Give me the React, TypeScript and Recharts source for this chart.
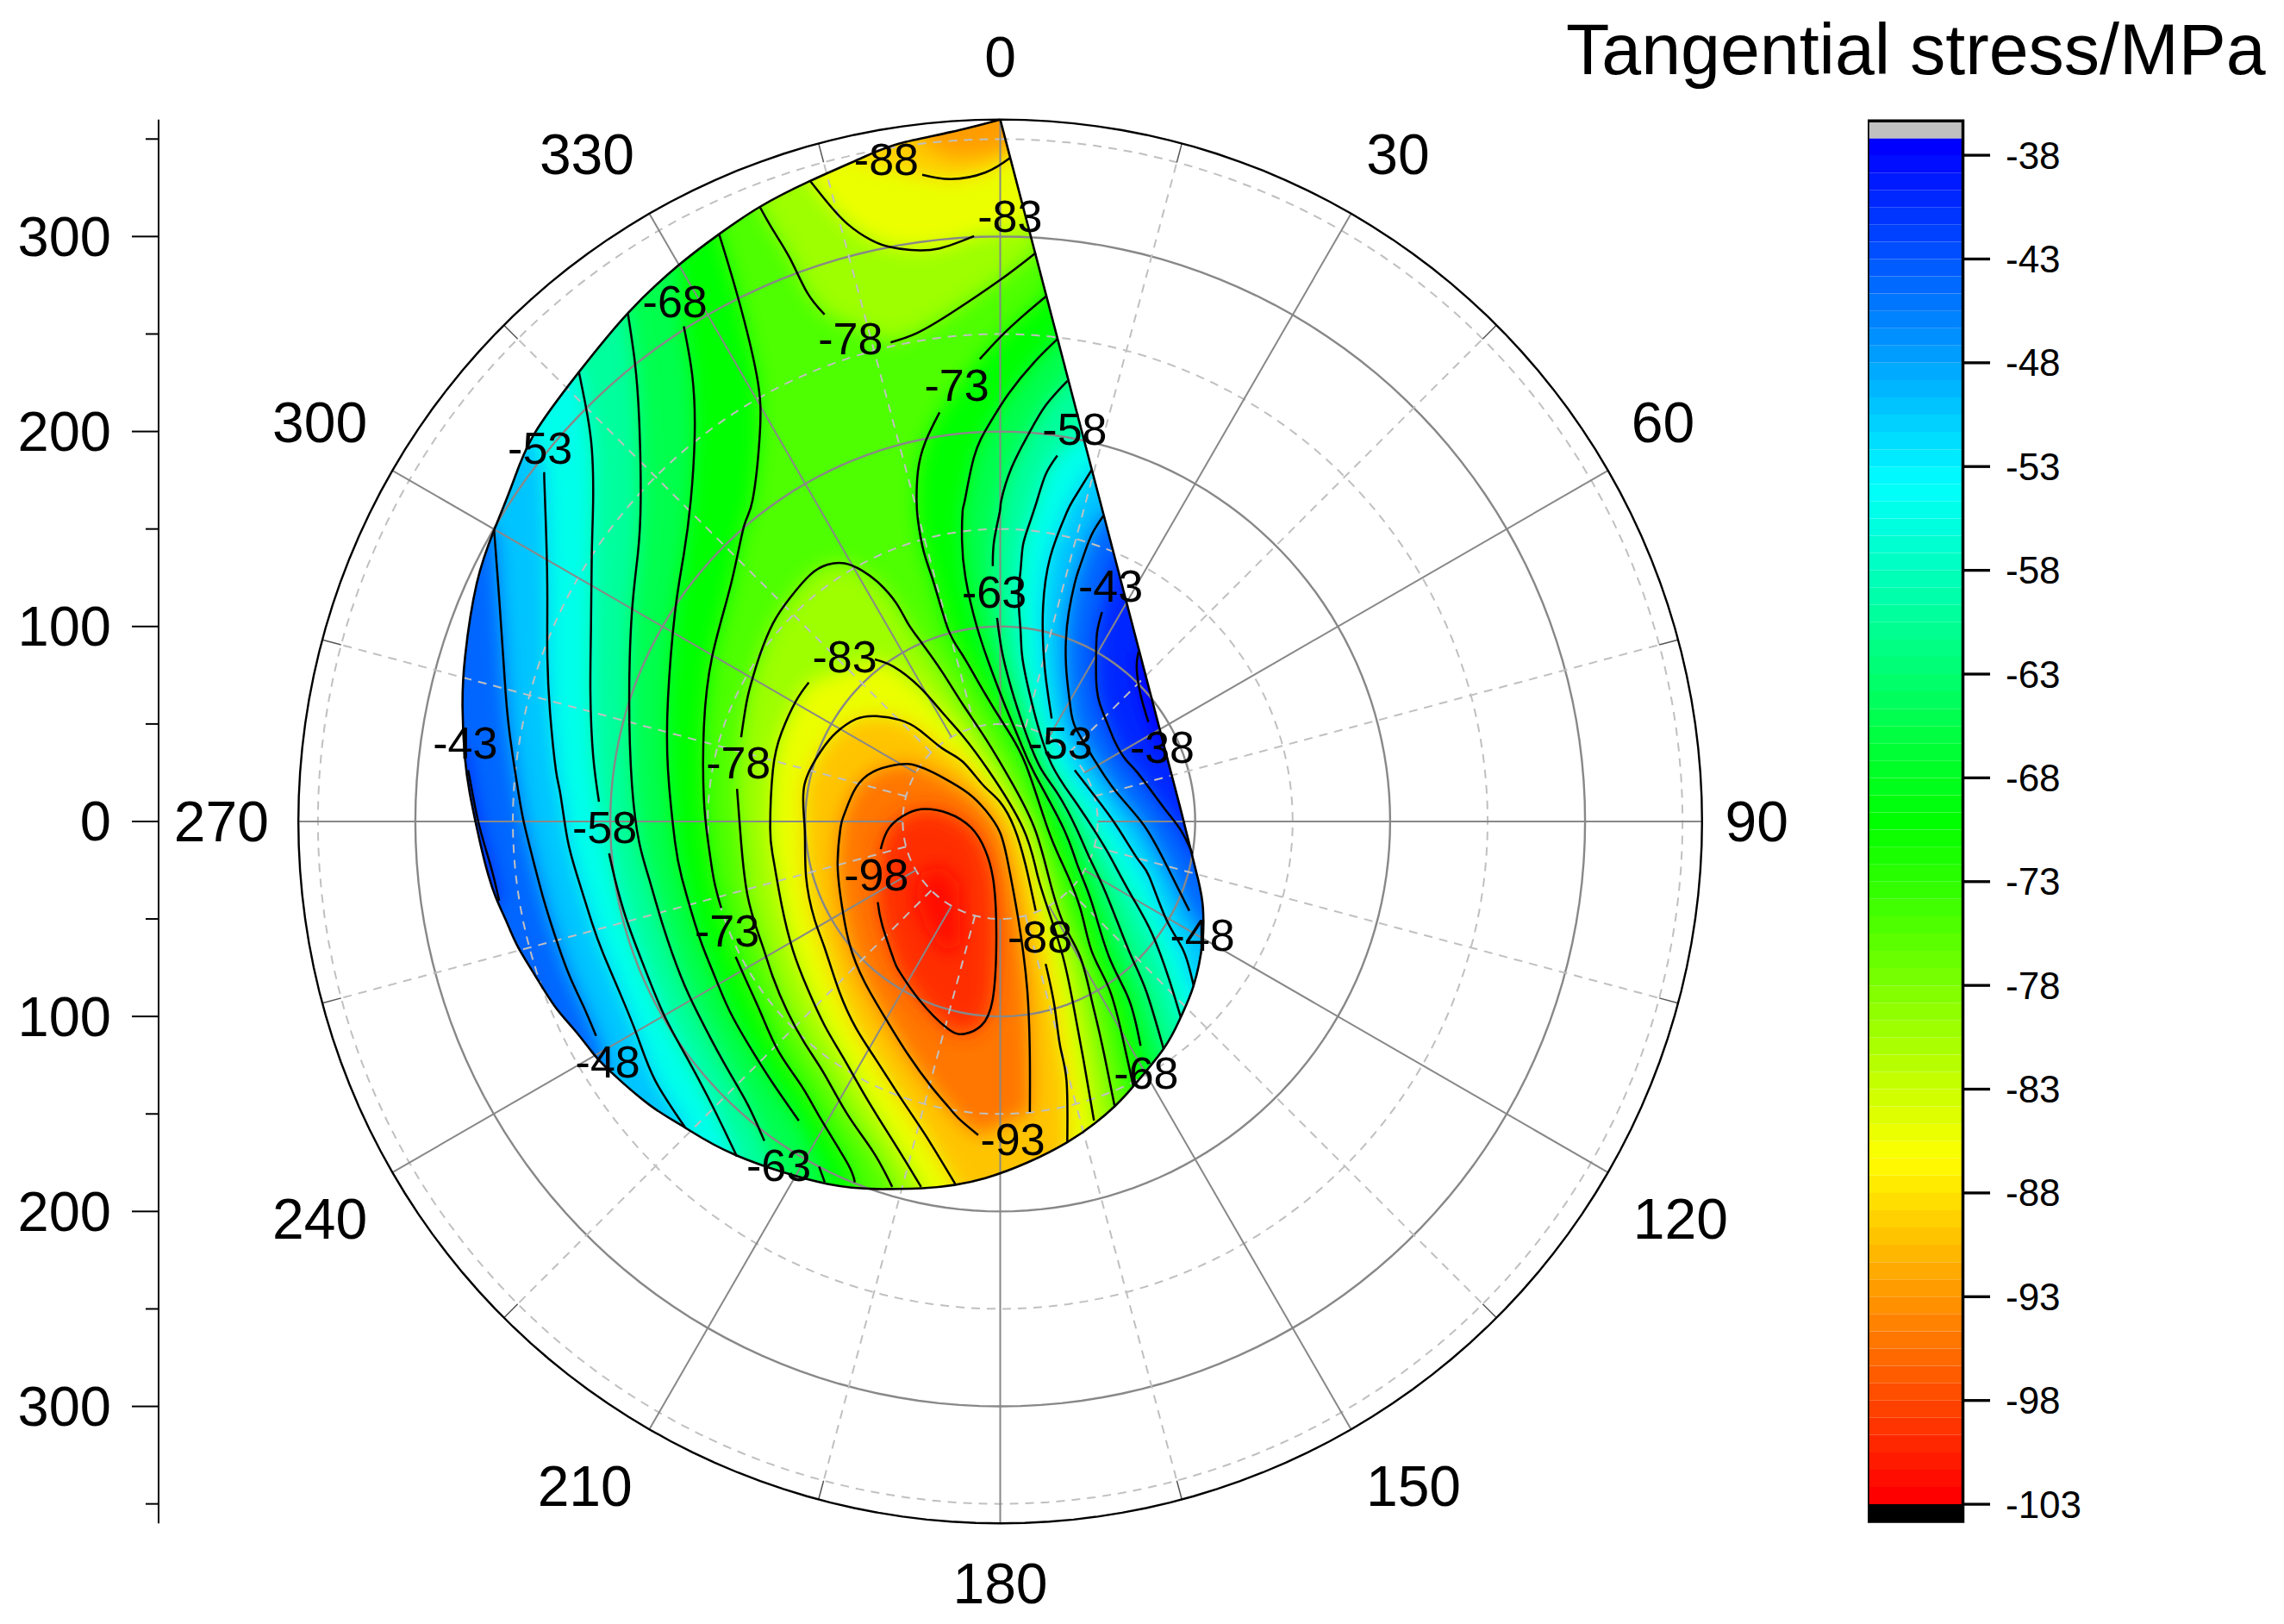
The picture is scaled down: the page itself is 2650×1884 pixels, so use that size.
import React from 'react'
import { ScatterChart, Scatter, XAxis, YAxis, Curve, ReferenceArea } from 'recharts'

type Pt = number[]

// Contour lines, in plot units (r*sin, r*cos), split where a label interrupts them.
// A single point is not drawn: it only carries the line on to the edge of the shape for the fill.
const outlineArc: Pt[] = [[92.7, 5.7], [101.5, -29.7], [104, -44.4], [103.7, -62], [99.2, -84.2], [92.6, -100.4], [83.8, -116.6], [68.3, -135.8], [58.7, -146.1], [34.4, -164.5], [-7.6, -182.9], [-40, -188.1], [-56.3, -188.5], [-88.6, -185.9], [-135.7, -171.1], [-161.5, -157.1], [-180, -145.3], [-200.6, -127.6], [-209.5, -118.1], [-218.3, -107], [-228.7, -94.5], [-239, -78.3], [-247.8, -63.5], [-253.7, -50.3], [-258.9, -38.5], [-264, -22.3], [-268.5, -3.1], [-272.1, 14.6], [-274.6, 33], [-275.8, 58.7], [-274.4, 85.3], [-268.5, 122.1], [-259.6, 149.4], [-250, 173.7], [-239, 198.8], [-216.1, 230.5], [-191, 260.7], [-165.3, 285], [-144.2, 301.2], [-123.3, 315.2], [-97.5, 328.5], [-71, 340.3], [-51.7, 347.7], [-25.2, 353.6], [0, 360]]
const outlineEdge: Pt[] = [[0, 360], [92.7, 5.7]]

const right38: Pt[][] = [[[71, 87], [70, 79], [72, 65], [76, 51]], [[84, 36]]]
const right43: Pt[][] = [[[59, 135]], [[52.2, 107.4], [49.7, 97], [49.2, 85.3], [49.2, 73.5], [50.7, 61.7], [55.1, 49.9], [58.8, 41], [64, 32.2], [70.6, 24.8], [83.9, 7.1], [92.7, -4.6], [98.6, -16.4]]]
const right48: Pt[][] = [[[52.9, 156.7], [47.7, 148.6], [44, 139.8], [40.4, 129.5], [38.2, 122.1], [35.2, 107.4], [33.7, 92.6], [34, 76.4], [36, 58.7], [38.5, 48.4], [47, 33.7], [58.8, 16], [73.5, -1.7], [85.2, -22.3], [97, -45.8]], [[104, -56]]]
const right53: Pt[][] = [[[47, 180.4], [37.4, 164.9], [33.7, 157.5], [25.6, 135.4], [22, 110.3], [22, 91.2], [23.4, 73.5], [26.4, 52.8]], [[38.2, 26.3], [48.5, 13], [60.3, -3.2], [70.6, -19.4], [76.4, -28.2], [85.2, -50.3], [94.1, -66.5], [99.2, -84.2]]]
const right58: Pt[][] = [[[43, 200]], [[29.3, 187.7], [23.4, 178.2], [19, 164.9], [14.6, 151.6], [11.6, 141.3], [10.5, 129.5], [9.4, 114.7], [10.5, 97], [11.6, 82.3], [17.5, 55.8], [26.4, 29.2], [39.6, 8.6], [52.9, -12], [58.7, -22.3], [67.6, -38.5], [77.9, -57.6], [86.7, -81.2], [92.6, -100.4]]]
const right63: Pt[][] = [[[34.5, 226], [23.4, 213.5], [14.6, 198.8], [5.7, 181.1], [0.6, 164.9], [-0.2, 158.9], [-3.1, 144.2], [-3.8, 131]], [[-1.6, 104.4], [1.3, 85.3], [7.2, 63.2], [13.1, 45.5], [20.5, 27.8], [29.3, 14.5], [38.9, -3.2], [45.4, -17.8], [54.3, -37], [66.1, -66.5], [74.9, -87.1], [83.8, -116.6]]]
const right68: Pt[][] = [[[29.3, 247.4], [17.5, 235.6], [4.3, 219.4], [-6, 203.2], [-13.4, 187], [-18.1, 164.9], [-19.3, 159], [-19.6, 144.2], [-17.8, 125], [-12, 100], [-4.6, 77.9], [2.8, 58.7], [10.2, 41], [17.5, 24.8], [32.3, -3.2], [39.6, -22.3], [46.9, -41.4], [55.8, -69.4], [66.1, -91.5], [72, -115.1]], [[76, -127]]]
const right73: Pt[][] = [[[23.4, 269.2], [11.6, 259.2], [-0.2, 248.2], [-10.5, 237.1]], [[-31.1, 209.8], [-38.5, 194.4], [-42.2, 179.6], [-42.9, 164.9], [-42.2, 154.5], [-39.2, 138.3], [-34, 122.1], [-26.7, 98.5], [-19.3, 85.3], [-9, 67.6], [2.8, 48.4], [13.1, 29.2], [24.2, -3.2], [32.2, -22.3], [41, -44.4], [46.9, -66.5], [55.8, -85.6], [62.4, -109.2], [68.3, -135.8]]]

const left43: Pt[][] = [[[-276, 40]], [[-272.9, 26.3], [-270.7, 14.6], [-267, -3.1], [-261.1, -23.7], [-257, -40.7]]]
const left48: Pt[][] = [[[-259.6, 149.4], [-258.1, 129.5], [-256.7, 110.3], [-255.2, 88.2], [-253.7, 66.1], [-251.5, 44], [-247.1, 14.6], [-244.1, -1.6], [-239.7, -19.3], [-234.6, -38.5], [-228.7, -57.6], [-221.3, -78.3], [-213.9, -94.5], [-207.3, -110]], [[-201, -127]]]
const left53: Pt[][] = [[[-240, 197]], [[-233.8, 178.2], [-233.8, 173.7], [-232.8, 144.2], [-232.3, 114.7], [-232.3, 85.3], [-230.9, 55.8], [-227.9, 26.3], [-225.7, 14.6], [-222, -9], [-216.9, -28.1], [-209.5, -51.7], [-203.6, -67.9], [-194.8, -88.6], [-185.9, -110.7], [-177, -132.8], [-161.5, -157.1]]]
const left58: Pt[][] = [[[-216.1, 230.5], [-212.4, 212], [-209.5, 191.4], [-208.8, 164.9], [-209.5, 136.9], [-209.9, 100], [-210.2, 66.1], [-208.8, 33.7], [-205.8, 10.1]], [[-200.6, -16.4], [-197.6, -29.6], [-191.7, -50.3], [-182.9, -73.9], [-172.6, -98.9], [-160.8, -121], [-147.5, -146.1], [-135, -171.9]]]
const left63: Pt[][] = [[[-191, 260.7], [-187.4, 235.6], [-185.2, 206.2], [-184.4, 164.9], [-185.9, 136.9], [-188.9, 107.4], [-190.3, 63.2], [-188.9, 18.9], [-185.2, -10.6], [-180, -29.7], [-172.6, -54.7], [-163.7, -79.7], [-154.9, -98.9], [-141.6, -124], [-129.8, -144.6], [-121, -163.8]], [[-115, -178]]]
const left68: Pt[][] = [[[-165, 285]], [[-162.3, 254], [-157.9, 228.3], [-156.7, 198.8], [-158.7, 164.9], [-162.3, 136.9], [-166.8, 107.4], [-170.4, 63.2], [-170.4, 26.3], [-166.8, -10.6], [-163.1, -29.7], [-154.9, -57.6], [-147.5, -76.8], [-138.7, -97.4], [-126.9, -118.1], [-116.6, -134.3], [-103.3, -153.5]], [[-92.9, -177], [-90, -185.1]]]
const left73: Pt[][] = [[[-144.2, 301.2], [-134.3, 268], [-124.8, 228.3], [-123.3, 198.8], [-127, 164.9], [-131.4, 151.6], [-138, 122.1], [-147.6, 85.3], [-152, 48.4], [-152, 11.6], [-149.8, -10.6], [-146.9, -29.7], [-143.1, -44.4]], [[-135.7, -69.4], [-129.8, -82.7], [-122.5, -98.9], [-113.6, -118.1], [-101.8, -135.8], [-91.5, -153.5], [-78.2, -175.6], [-74.6, -185.1]]]

const top78: Pt[][] = [[[-123.3, 315.2], [-116.6, 303.4], [-107.8, 288.7], [-98.9, 271], [-90.1, 260]], [[-56.2, 245.7], [-42.9, 250.4], [-25.2, 260.7], [-0.2, 277.6], [18.3, 291.7]]]
const top83: Pt[][] = [[[-97.5, 328.5], [-88.6, 317.4], [-78.3, 306.4], [-66.5, 298.3], [-57.6, 294.9], [-45.9, 293.1], [-31.1, 293.9], [-13.4, 300.2]], [[14, 306]]]
const top88: Pt[][] = [[[-74, 340]], [[-40, 331.7], [-25.2, 329.5], [-7.5, 332.9], [5, 340.3]]]
const top91: Pt[] = [[-41.4, 349.1], [-23.7, 340.3], [-6, 341.8], [5.7, 346.2]]

const loop78: Pt[][] = [[[-55.4, -187.4], [-65, -169.7], [-78.2, -150.5], [-90, -129.9], [-100.3, -113.7], [-109.2, -97.4], [-116.6, -79.8], [-122.5, -62.1], [-129.8, -37], [-133.5, -3.1], [-135, 16.7]], [[-132.9, 43.2], [-130, 61.7], [-127, 73.5], [-123.3, 85.3], [-116.6, 101.5], [-107.8, 114.7], [-97.5, 126.5], [-88.6, 131.7], [-79.8, 132.4], [-70.9, 128.7], [-62.1, 122.1], [-53.2, 111.8], [-47.3, 101.5], [-40, 91.2], [-29.6, 76.4], [-19.3, 60.2], [-7.5, 42.5], [5.7, 20.4], [17.5, -3.2], [24.8, -28.2], [32.2, -51.7], [41, -69.4], [46.9, -91.5], [52.1, -113.7], [58.7, -146.1]]]
const loop83: Pt[][] = [[[-40.6, -187.4], [-53.2, -166.7], [-67.9, -143.1], [-79.7, -122.5], [-90, -104.8], [-98.9, -85.6], [-106.2, -66.5], [-112.1, -42.9], [-116.6, -17.8], [-118, -3.1], [-116.6, 26.3], [-112.2, 45.5], [-104.8, 61.7], [-98.2, 71.3]], [[-64.3, 83.1], [-54.7, 79.4], [-41.4, 69], [-29.6, 55.8], [-19.3, 44], [-6.1, 26.3], [11.6, -3.2], [18.9, -26.7], [24.8, -45.8], [32.2, -69.4], [37.3, -93], [42.5, -121], [48.1, -153.4]]]
const loop88: Pt[][] = [[[-23.1, -185.9], [-38.4, -160.8], [-50.2, -143.1], [-63.5, -122.5], [-73.8, -106.3], [-82.6, -87.1], [-90, -65], [-95.2, -50.3], [-99.6, -28.2], [-100.3, -3.1], [-100.4, 18.9], [-91.6, 36.6], [-84.2, 45.5], [-73.9, 52.5], [-63.5, 54], [-51.7, 52.1], [-41.4, 46.9], [-29.6, 37.4], [-19.3, 30.7], [-9, 18.9], [-0.2, 10.1], [7.2, -3.2], [13, -22.3], [18.2, -45.8]], [[23.3, -73.1], [27.8, -94.5], [30.7, -115.1], [34, -132.8], [34.4, -164.5]]]
const loop93: Pt[] = [[-11.3, -160.8], [-20.9, -152.7], [-26.8, -146.1], [-35.5, -135.8], [-47.3, -119.5], [-58.3, -101.9], [-69.4, -82.7], [-77.5, -62.1], [-81.9, -38.5], [-83.4, -20.8], [-81.9, -3.1], [-79.8, 4.2], [-73.9, 17.5], [-65, 25.6], [-56.2, 28.5], [-47.3, 29.5], [-38.5, 27], [-29.6, 22.6], [-16.4, 14.5], [-7.5, 5.7], [-0.2, -5.4], [4.2, -22.3], [9.3, -50.3], [13.8, -85.6], [15.2, -121], [15.2, -149]]
const loop98: Pt[] = [[-62.8, -41.4], [-60.5, -53.2], [-54.6, -70.9], [-51.8, -76.8], [-41.5, -91.5], [-26.8, -106.3], [-18, -108.9], [-9.8, -104.8], [-3.9, -91.5], [-2, -62], [-3.2, -32.6], [-7.6, -14.9], [-15, -3.1], [-26.7, 4.2], [-38.5, 6.4], [-47.3, 4.2], [-56.9, -3.2], [-61.3, -14.2]]
const core101: Pt[] = [[-30, -22], [-21, -32], [-20, -62], [-27, -69], [-38, -55], [-44, -38], [-40, -26]]

const contourLabels = [
  { text: '-88', x: -58.4, y: 339.6 }, { text: '-83', x: 5, y: 310.4 }, { text: '-78', x: -76.8, y: 247.4 },
  { text: '-73', x: -22.3, y: 223.9 }, { text: '-68', x: -166.8, y: 266.6 }, { text: '-58', x: 38.2, y: 201 },
  { text: '-53', x: -236, y: 191.4 }, { text: '-63', x: -3.1, y: 117.7 }, { text: '-43', x: 56.6, y: 120.6 },
  { text: '-83', x: -79.8, y: 84.5 }, { text: '-78', x: -134.3, y: 30 }, { text: '-43', x: -274.4, y: 40.3 },
  { text: '-58', x: -202.9, y: -3.2 }, { text: '-53', x: 30.8, y: 40.3 }, { text: '-38', x: 83.1, y: 38.1 },
  { text: '-98', x: -63.5, y: -27.4 }, { text: '-73', x: -140.1, y: -56.2 }, { text: '-88', x: 20.4, y: -59.1 },
  { text: '-48', x: 103.7, y: -58.4 }, { text: '-68', x: 74.9, y: -129.1 }, { text: '-93', x: 6.4, y: -163 },
  { text: '-63', x: -113.6, y: -176.3 }, { text: '-48', x: -201.3, y: -123.2 },
]

const angleTicks = [0, 30, 60, 90, 120, 150, 180, 210, 240, 270, 300, 330]
const angleLabelX = [0, 204, 340, 388, 349, 212, 0, -213, -349, -399.5, -349, -212]
const angleLabelY = [392, 342, 204.6, 0, -204, -341, -391, -341, -204, 0, 204.6, 342]
const minorAngles = [15, 45, 75, 105, 135, 165, 195, 225, 255, 285, 315, 345]
const majorCircles = [100, 200, 300]
const minorCircles = [50, 150, 250, 350]
const radiusTicks = [-350, -300, -250, -200, -150, -100, -50, 0, 50, 100, 150, 200, 250, 300, 350]
const colorbarTicks = [-38, -43, -48, -53, -58, -63, -68, -73, -78, -83, -88, -93, -98, -103]

const FONT = '"Liberation Sans", Arial, sans-serif'
const STEP = 5 / 6

// same rainbow as the colour bar: red at -103, blue at -38
function rainbow(v: number) {
  const seg = Math.min(Math.max((v + 103) / (STEP * 78), 0), 1) * 4
  const i = Math.min(Math.floor(seg), 3)
  const f = Math.round((seg - i) * 255)
  if (i === 0) return `rgb(255,${f},0)`
  if (i === 1) return `rgb(${255 - f},255,0)`
  if (i === 2) return `rgb(0,255,${f})`
  return `rgb(0,${255 - f},255)`
}

const RING_TOP: Pt = [0, 415]
const RING_BOTTOM: Pt = [-50, -405]
const RING_LEFT: Pt = [-425, 0]

// pushes a line end out past the edge of the shape so the blurred fill is cut by the clip only
const pushOut = ([x, y]: Pt): Pt => [
  Math.max(-425, -60 + (x + 60) * 1.6),
  Math.min(415, Math.max(-405, 80 + (y - 80) * 1.6)),
]
const flat = (segs: Pt[][]) => segs.flat()
const rev = (line: Pt[]) => [...line].reverse()

function between(rightSegs: Pt[][], leftSegs: Pt[][]) {
  const r = flat(rightSegs)
  const l = flat(leftSegs)
  return [RING_TOP, pushOut(r[0]), ...r, pushOut(r[r.length - 1]), RING_BOTTOM, pushOut(l[l.length - 1]), ...rev(l), pushOut(l[0])]
}
function leftOf(rightSegs: Pt[][]) {
  const r = flat(rightSegs)
  return [RING_TOP, pushOut(r[0]), ...r, pushOut(r[r.length - 1]), RING_BOTTOM, RING_LEFT]
}
function capTop(line: Pt[]) {
  return [RING_TOP, pushOut(line[line.length - 1]), ...rev(line), pushOut(line[0])]
}
function capBottom(line: Pt[]) {
  return [RING_BOTTOM, pushOut(line[0]), ...line, pushOut(line[line.length - 1])]
}

const fillLayers = [
  { color: rainbow(-40.5), shape: leftOf(right38) },
  { color: rainbow(-44.5), shape: between(right43, left43) },
  { color: rainbow(-50.5), shape: between(right48, left48) },
  { color: rainbow(-55.5), shape: between(right53, left53) },
  { color: rainbow(-60.5), shape: between(right58, left58) },
  { color: rainbow(-65.5), shape: between(right63, left63) },
  { color: rainbow(-70.5), shape: between(right68, left68) },
  { color: rainbow(-75.5), shape: between(right73, left73) },
  { color: rainbow(-80.5), shape: capTop(flat(top78)) },
  { color: rainbow(-80.5), shape: capBottom(flat(loop78)) },
  { color: rainbow(-85.5), shape: capTop(flat(top83)) },
  { color: rainbow(-85.5), shape: capBottom(flat(loop83)) },
  { color: rainbow(-90), shape: capTop(flat(top88)) },
  { color: rainbow(-90.5), shape: capBottom(flat(loop88)) },
  { color: rainbow(-93), shape: capTop(top91) },
  { color: rainbow(-95.5), shape: loop93 },
  { color: rainbow(-100), shape: loop98 },
  { color: rainbow(-102.5), shape: core101 },
]

const contourSegments = [
  ...right38, ...right43, ...right48, ...right53, ...right58, ...right63, ...right68, ...right73,
  ...left43, ...left48, ...left53, ...left58, ...left63, ...left68, ...left73,
  ...top78, ...top83, ...top88, ...loop78, ...loop83, ...loop88, loop93, loop98,
].filter(seg => seg.length > 1)

const toData = (pts: Pt[]) => pts.map(([x, y]) => ({ x, y }))
const polar = (r: number, deg: number): Pt => [r * Math.sin((deg * Math.PI) / 180), r * Math.cos((deg * Math.PI) / 180)]
const circle = (r: number) => Array.from({ length: 181 }, (_, i) => polar(r, i * 2))
const noSymbol = () => null

function pathSeries(key: string, pts: Pt[], type: string, style: any) {
  return (
    <Scatter
      key={key}
      data={toData(pts)}
      isAnimationActive={false}
      shape={noSymbol}
      line={(p: any) => <Curve points={p.points} type={type as any} {...style} />}
    />
  )
}

function blurredFill(key: string, pts: Pt[], color: string) {
  return (
    <Scatter
      key={key}
      data={toData(pts)}
      isAnimationActive={false}
      shape={noSymbol}
      line={(p: any) => (
        <g clipPath="url(#shapeClip)">
          <g filter="url(#soften)">
            <Curve points={p.points} type="linear" fill={color} stroke="none" />
          </g>
        </g>
      )}
    />
  )
}

const labelShape = (size: number) => (p: any) => (
  <text x={p.cx} y={p.cy} fontSize={size} fontFamily={FONT} fill="#000" textAnchor="middle" dominantBaseline="central">
    {p.payload.text}
  </text>
)

function RadiusTick({ x, y, payload }: any) {
  const major = payload.value % 100 === 0
  return (
    <g>
      <line x1={x - (major ? 31 : 15)} x2={x} y1={y} y2={y} stroke="#000" strokeWidth={2} />
      {major && (
        <text x={x - 55} y={y} fontSize={65} fontFamily={FONT} fill="#000" textAnchor="end" dominantBaseline="central">
          {Math.abs(payload.value)}
        </text>
      )}
    </g>
  )
}

function BarTick({ x, y, payload }: any) {
  return (
    <g>
      <line x1={x} x2={x + 31.5} y1={y} y2={y} stroke="#000" strokeWidth={3.3} />
      <text x={x + 49.5} y={y} fontSize={44} fontFamily={FONT} fill="#000" dominantBaseline="central">
        {payload.value}
      </text>
    </g>
  )
}

function PolarPlot() {
  return (
    <ScatterChart width={2650} height={1884} margin={{ top: 0, right: 0, bottom: 0, left: 0 }}>
      <XAxis type="number" dataKey="x" hide domain={[-431.7, 658.5]} />
      <YAxis
        type="number"
        dataKey="y"
        width={184}
        domain={[-411.6, 421.3]}
        ticks={radiusTicks}
        interval={0}
        axisLine={false}
        tickLine={false}
        tickSize={0}
        tickMargin={0}
        tick={<RadiusTick />}
      />

      {/* base colour plus the defs every layer refers to */}
      <Scatter
        data={toData(outlineArc)}
        isAnimationActive={false}
        shape={noSymbol}
        line={(p: any) => (
          <g>
            <defs>
              <filter id="soften" x="-20%" y="-20%" width="140%" height="140%">
                <feGaussianBlur stdDeviation="11" />
              </filter>
              <clipPath id="shapeClip">
                <Curve points={p.points} type="natural" />
              </clipPath>
            </defs>
            <Curve points={p.points} type="natural" fill={rainbow(-37.5)} stroke="none" />
          </g>
        )}
      />
      {fillLayers.map((l, i) => blurredFill(`fill-${i}`, l.shape, l.color))}

      {minorCircles.map(r => pathSeries(`minor-${r}`, circle(r), 'linear', { stroke: '#c0c0c0', strokeWidth: 2, strokeDasharray: '10 8', fill: 'none' }))}
      {majorCircles.map(r => pathSeries(`major-${r}`, circle(r), 'linear', { stroke: '#888', strokeWidth: 2.4, fill: 'none' }))}
      {minorAngles.map(a => pathSeries(`dash-${a}`, [polar(50, a), polar(350, a)], 'linear', { stroke: '#c0c0c0', strokeWidth: 2, strokeDasharray: '10 8', fill: 'none' }))}
      {minorAngles.map(a => pathSeries(`stub-${a}`, [polar(350, a), polar(360, a)], 'linear', { stroke: '#555', strokeWidth: 1.5, fill: 'none' }))}
      {angleTicks.map(a => pathSeries(`spoke-${a}`, [polar(50, a), polar(360, a)], 'linear', { stroke: '#888', strokeWidth: 2, fill: 'none' }))}
      {pathSeries('outer', circle(360), 'linear', { stroke: '#000', strokeWidth: 2.4, fill: 'none' })}

      {contourSegments.map((seg, i) => pathSeries(`contour-${i}`, seg, 'natural', { stroke: '#000', strokeWidth: 2.5, fill: 'none' }))}
      {pathSeries('outline-arc', outlineArc, 'natural', { stroke: '#000', strokeWidth: 2.6, fill: 'none' })}
      {pathSeries('outline-edge', outlineEdge, 'linear', { stroke: '#000', strokeWidth: 2.6, fill: 'none' })}
      {pathSeries('radius-axis', [[-431.7, -360], [-431.7, 360]], 'linear', { stroke: '#000', strokeWidth: 2, fill: 'none' })}

      <Scatter data={contourLabels} isAnimationActive={false} shape={labelShape(52)} />
      <Scatter
        data={angleTicks.map((a, i) => ({ x: angleLabelX[i], y: angleLabelY[i], text: String(a) }))}
        isAnimationActive={false}
        shape={labelShape(66)}
      />
    </ScatterChart>
  )
}

function ColorBar() {
  return (
    <ScatterChart width={483} height={1884} margin={{ top: 0, right: 0, bottom: 0, left: 0 }}>
      <XAxis type="number" dataKey="x" hide domain={[0, 1]} />
      <YAxis
        type="number"
        dataKey="y"
        orientation="right"
        width={372.5}
        domain={[-108.77, -30.52]}
        ticks={colorbarTicks}
        interval={0}
        axisLine={false}
        tickLine={false}
        tickSize={0}
        tickMargin={0}
        tick={<BarTick />}
      />
      {Array.from({ length: 79 }, (_, i) => (
        <ReferenceArea key={i} x1={0} x2={1} y1={-103 + i * STEP} y2={-103 + (i + 1) * STEP} fill={rainbow(-103 + i * STEP)} fillOpacity={1} stroke="none" />
      ))}
      <ReferenceArea x1={0} x2={1} y1={-37.2} y2={-36.34} fill="#c0c0c0" fillOpacity={1} stroke="none" />
      <ReferenceArea x1={0} x2={1} y1={-103.83} y2={-103} fill="#000" fillOpacity={1} stroke="none" />
      <ReferenceArea x1={0} x2={1} y1={-103.83} y2={-36.34} fill="none" stroke="#000" strokeWidth={3.5} />
      {/* the axes need a series to build their scales */}
      <Scatter data={colorbarTicks.map(y => ({ x: 0.5, y }))} isAnimationActive={false} shape={noSymbol} />
    </ScatterChart>
  )
}

export default function App() {
  return (
    <div style={{ position: 'absolute', left: 0, top: 0, width: 2650, height: 1884, background: '#fff', overflow: 'hidden' }}>
      <div style={{ position: 'absolute', left: 0, top: 0 }}>
        <PolarPlot />
      </div>
      <div style={{ position: 'absolute', left: 2167, top: 0 }}>
        <ColorBar />
      </div>
      <div style={{ position: 'absolute', left: 1817, top: 16, fontFamily: FONT, fontSize: 82.5, lineHeight: 1, whiteSpace: 'nowrap', color: '#000' }}>
        Tangential stress/MPa
      </div>
    </div>
  )
}
